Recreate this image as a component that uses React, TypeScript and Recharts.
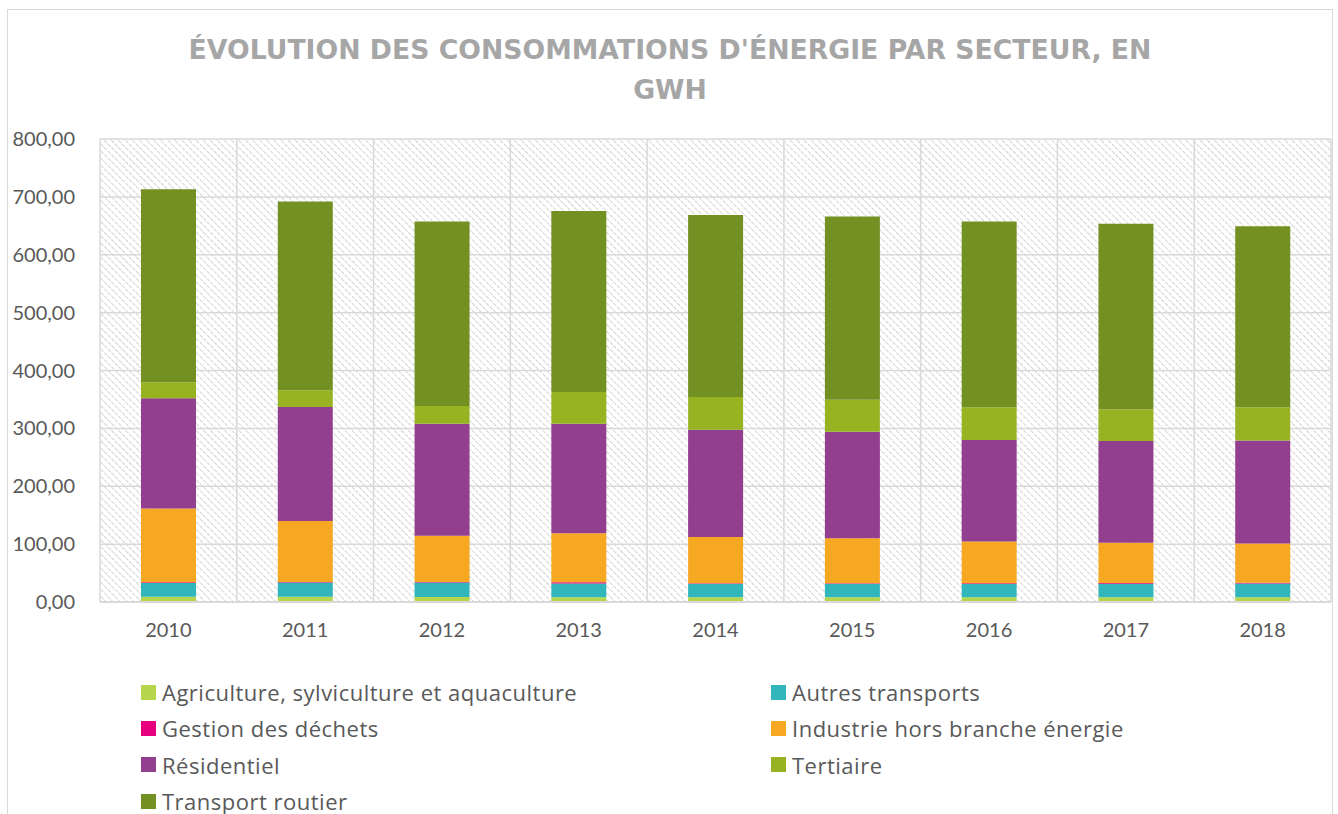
import { BarChart, Bar, XAxis, YAxis, CartesianGrid, Legend } from "recharts"

const years = ["2010", "2011", "2012", "2013", "2014", "2015", "2016", "2017", "2018"]

// GWh per sector
const agriculture = [9, 9, 8.5, 8, 8, 8, 8, 8, 8]
const autresTransports = [24, 24.5, 25, 24, 23.5, 23.5, 23, 23.5, 24]
const gestionDechets = [1.2, 1, 1, 2, 1, 1, 1.5, 1.5, 1.2]
const industrie = [127.5, 105.5, 80, 85, 80, 77.5, 72, 69.5, 68]
const residentiel = [190.5, 197, 193.5, 189, 185, 184, 175.5, 175.5, 178]
const tertiaire = [27.5, 29, 30.5, 55, 56.5, 55.5, 56.5, 55, 57.5]
const transportRoutier = [333.5, 326, 319, 312.5, 314.5, 316.5, 321, 320.5, 312.5]

const yTicks = [0, 100, 200, 300, 400, 500, 600, 700, 800]

const series = [
  { key: "agriculture", name: "Agriculture, sylviculture et aquaculture", color: "#b5d64c", values: agriculture },
  { key: "autres", name: "Autres transports", color: "#31b6bc", values: autresTransports },
  { key: "gestion", name: "Gestion des déchets", color: "#e6007e", values: gestionDechets },
  { key: "industrie", name: "Industrie hors branche énergie", color: "#f6a822", values: industrie },
  { key: "residentiel", name: "Résidentiel", color: "#913f8e", values: residentiel },
  { key: "tertiaire", name: "Tertiaire", color: "#97b321", values: tertiaire },
  { key: "transport", name: "Transport routier", color: "#739122", values: transportRoutier },
]

const data = years.map((year, i) => {
  const row: Record<string, string | number> = { year }
  series.forEach((s) => {
    row[s.key] = s.values[i]
  })
  return row
})

const textColor = "#595959"
const gridColor = "#d9d9d9"

function LegendBox() {
  return (
    <div
      style={{
        display: "grid",
        gridTemplateColumns: "630px 500px",
        gridAutoRows: "36.3px",
        paddingLeft: 141,
        fontFamily: "'Open Sans', sans-serif",
        fontSize: 22,
        letterSpacing: 0.5,
        color: textColor,
      }}
    >
      {series.map((s) => (
        <div key={s.key} style={{ display: "flex", alignItems: "center", whiteSpace: "nowrap" }}>
          <span style={{ width: 15, height: 15, background: s.color, marginRight: 6, display: "inline-block" }} />
          <span>{s.name}</span>
        </div>
      ))}
    </div>
  )
}

export default function App() {
  return (
    <div style={{ position: "absolute", left: 0, top: 0, width: 1338, height: 814 }}>
      {/* chart frame */}
      <div
        style={{
          position: "absolute",
          left: 7,
          top: 9,
          width: 1326,
          height: 805,
          boxSizing: "border-box",
          border: `1.5px solid ${gridColor}`,
          borderBottom: "none",
        }}
      />
      <div
        style={{
          position: "absolute",
          left: 0,
          top: 30,
          width: 1340,
          textAlign: "center",
          fontFamily: "'DejaVu Sans', sans-serif",
          fontWeight: "bold",
          fontSize: 26.7,
          lineHeight: "40px",
          color: "#a6a6a6",
        }}
      >
        ÉVOLUTION DES CONSOMMATIONS D'ÉNERGIE PAR SECTEUR, EN
        <br />
        GWH
      </div>
      <BarChart
        width={1338}
        height={814}
        data={data}
        margin={{ top: 139, right: 7, left: 10, bottom: 182 }}
        style={{ position: "absolute", left: 0, top: 0 }}
      >
        <defs>
          <pattern id="hatch" patternUnits="userSpaceOnUse" width="5" height="5" patternTransform="rotate(45)">
            <rect width="5" height="5" fill="#ffffff" />
            <line x1="0" y1="0" x2="5" y2="0" stroke="#d3d3d3" strokeWidth="2" strokeDasharray="2 1" />
          </pattern>
        </defs>
        <CartesianGrid
          stroke={gridColor}
          strokeWidth={1.5}
          fill="url(#hatch)"
          fillOpacity={1}
          verticalCoordinatesGenerator={({ offset }: any) =>
            years.map((_, i) => offset.left + (i * offset.width) / years.length).concat(offset.left + offset.width)
          }
        />
        <XAxis
          dataKey="year"
          tickLine={false}
          axisLine={{ stroke: gridColor, strokeWidth: 2 }}
          tick={{ fill: textColor, fontSize: 20, fontFamily: "Lato, sans-serif" }}
          tickSize={6}
          tickMargin={15}
        />
        <YAxis
          width={90}
          domain={[0, 800]}
          ticks={yTicks}
          axisLine={false}
          tickLine={false}
          tickSize={6}
          tickMargin={19}
          tick={{ fill: textColor, fontSize: 20, fontFamily: "Lato, sans-serif" }}
          tickFormatter={(v: number) => v.toFixed(2).replace(".", ",")}
        />
        {series.map((s) => (
          <Bar key={s.key} dataKey={s.key} name={s.name} stackId="a" fill={s.color} barSize={55} isAnimationActive={false} />
        ))}
        <Legend
          layout="horizontal"
          verticalAlign="middle"
          align="center"
          wrapperStyle={{ position: "absolute", left: 0, top: 674, width: 1338 }}
          content={() => <LegendBox />}
        />
      </BarChart>
    </div>
  )
}
